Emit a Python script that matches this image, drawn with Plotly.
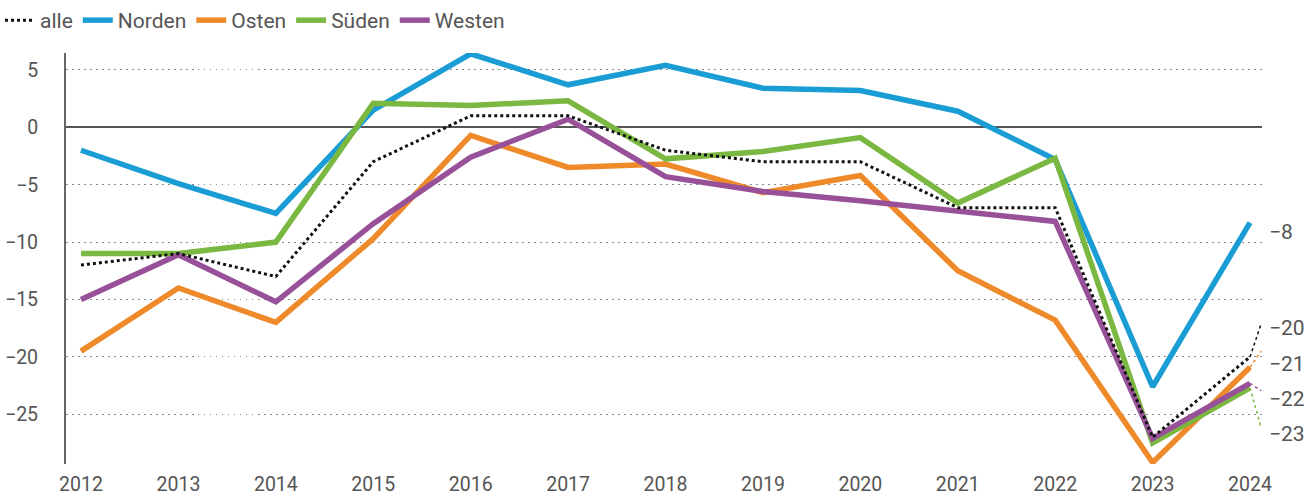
import plotly.graph_objects as go

years = list(range(2012, 2025))
alle   = [-12.0, -11.0, -13.0, -3.0, 1.0, 1.0, -2.0, -3.0, -3.0, -7.0, -7.0, -27.0, -20.0]
norden = [-2.0, -4.9, -7.5, 1.5, 6.4, 3.7, 5.4, 3.4, 3.2, 1.4, -2.8, -22.6, -8.3]
osten  = [-19.5, -14.0, -17.0, -9.7, -0.7, -3.5, -3.2, -5.7, -4.2, -12.5, -16.8, -29.2, -20.9]
sueden = [-11.0, -11.0, -10.0, 2.1, 1.9, 2.3, -2.75, -2.1, -0.9, -6.6, -2.7, -27.5, -22.7]
westen = [-15.0, -11.1, -15.2, -8.4, -2.6, 0.7, -4.3, -5.6, -6.4, -7.3, -8.2, -27.1, -22.3]

names = ["alle", "Norden", "Osten", "Süden", "Westen"]
colors = {"alle": "#111111", "Norden": "#1a9dd5", "Osten": "#ef8a2a",
          "Süden": "#7bb842", "Westen": "#985199"}
series = {"alle": alle, "Norden": norden, "Osten": osten, "Süden": sueden, "Westen": westen}
end_labels = {"alle": "−20", "Norden": "−8", "Osten": "−21", "Süden": "−23", "Westen": "−22"}
# label vertical positions (layout, in value units) to avoid overlap
label_y = {"alle": -17.5, "Norden": -9.1, "Osten": -20.6, "Süden": -26.7, "Westen": -23.7}
leader_y = {"alle": -17.1, "Osten": -19.5, "Süden": -26.2, "Westen": -22.95}

fig = go.Figure()
draw_order = ["Norden", "Osten", "Süden", "Westen", "alle"]
for n in draw_order:
    is_alle = n == "alle"
    fig.add_trace(go.Scatter(
        x=years, y=series[n], mode="lines", name=n,
        line=dict(color=colors[n], width=3 if is_alle else 5.5,
                  dash="dot" if is_alle else "solid"),
        legendrank=names.index(n) + 1,
        hoverinfo="skip",
    ))

# leader lines from the 2024 end points to the labels
lead_x = years[-1] + 0.115
for n, ly in leader_y.items():
    fig.add_trace(go.Scatter(
        x=[years[-1], lead_x], y=[series[n][-1], ly], mode="lines",
        line=dict(color=colors[n], width=1.5, dash="dot"),
        showlegend=False, hoverinfo="skip", cliponaxis=False,
    ))

for n in names:
    fig.add_annotation(
        x=1.0042, xref="paper", y=label_y[n], yref="y",
        text=end_labels[n], showarrow=False, xanchor="left", yanchor="middle",
        font=dict(size=21, color="#555555"),
    )

fig.update_layout(
    width=1310, height=496,
    margin=dict(l=66, r=48, t=53, b=32, autoexpand=False),
    paper_bgcolor="white", plot_bgcolor="white",
    font=dict(family="Roboto, sans-serif", size=19.5, color="#555555"),
    showlegend=True,
    legend=dict(orientation="h", xref="container", yref="container",
                x=0, xanchor="left", y=1, yanchor="top",
                font=dict(size=21, color="#555555"), itemwidth=30,
                bgcolor="rgba(0,0,0,0)"),
    xaxis=dict(range=[2011.846, 2024.123], tickmode="array", tickvals=years,
               ticktext=[str(y) for y in years], showgrid=False, zeroline=False,
               showline=False, ticks="outside", ticklen=3, automargin=False,
               tickcolor="rgba(0,0,0,0)"),
    yaxis=dict(range=[-29.33, 6.47], tickmode="array",
               tickvals=[5, 0, -5, -10, -15, -20, -25], automargin=False,
               showgrid=True, gridcolor="#888888", griddash="1.5px,4.5px", gridwidth=1,
               zeroline=True, zerolinecolor="#555555", zerolinewidth=2,
               showline=True, linecolor="#666666", linewidth=2,
               ticks="outside", ticklen=22, tickcolor="rgba(0,0,0,0)"),
)

fig.write_html("out.html", config={"displayModeBar": False},
               post_script="document.body.style.margin='0';")
